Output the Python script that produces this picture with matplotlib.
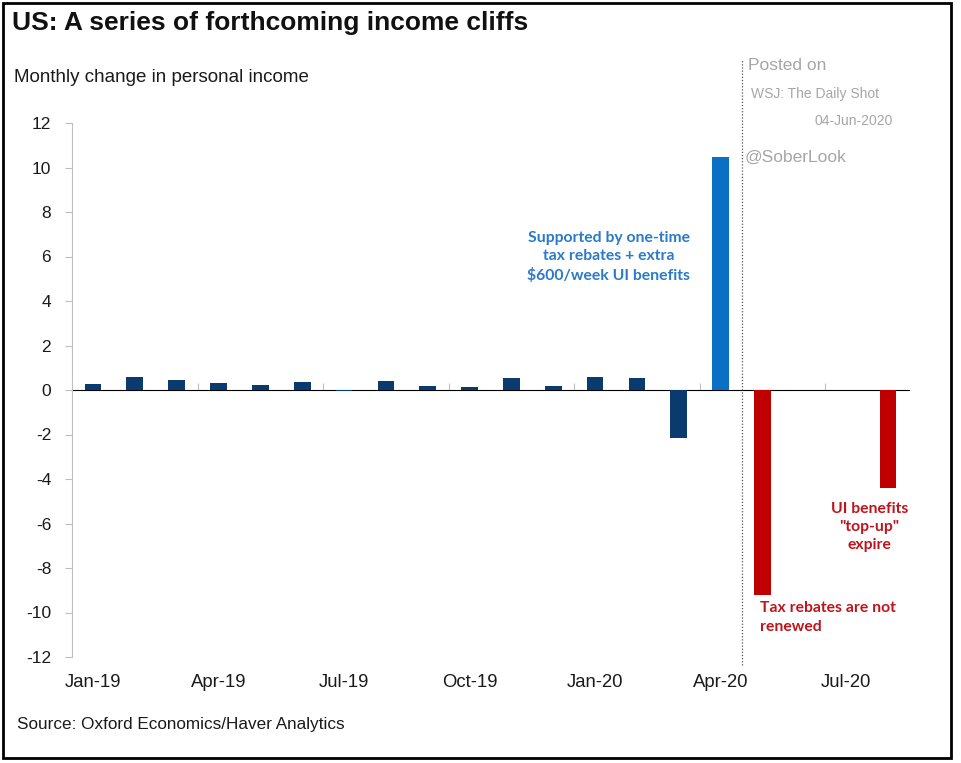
import numpy as np
import matplotlib.pyplot as plt
from matplotlib.patches import Rectangle

months = ['Jan-19', 'Feb-19', 'Mar-19', 'Apr-19', 'May-19', 'Jun-19', 'Jul-19',
          'Aug-19', 'Sep-19', 'Oct-19', 'Nov-19', 'Dec-19', 'Jan-20', 'Feb-20',
          'Mar-20', 'Apr-20', 'May-20', 'Jun-20', 'Jul-20', 'Aug-20']
actual = [0.27, 0.57, 0.44, 0.3, 0.21, 0.36, -0.05, 0.4, 0.2, 0.15, 0.53, 0.2,
          0.6, 0.53, -2.17, np.nan, np.nan, np.nan, np.nan, np.nan]
april_spike = [np.nan] * 15 + [10.47, np.nan, np.nan, np.nan, np.nan]
cliffs = [np.nan] * 16 + [-9.2, np.nan, np.nan, -4.4]
tick_months = ['Jan-19', 'Apr-19', 'Jul-19', 'Oct-19', 'Jan-20', 'Apr-20', 'Jul-20']

navy = '#0B3A6E'
blue = '#0A70C4'
red = '#C00000'
axcol = '#BFBFBF'

plt.rcParams['font.family'] = ['Liberation Sans', 'DejaVu Sans']
plt.rcParams['axes.unicode_minus'] = False

fig = plt.figure(figsize=(9.61, 7.63), dpi=100)
ax = fig.add_axes([72 / 961, 1 - 657 / 763, (909 - 72) / 961, (657 - 123) / 763])

x = np.arange(len(months))
w = 0.4
ax.bar(x, actual, width=w, color=navy)
ax.bar(x, april_spike, width=w, color=blue)
ax.bar(x, cliffs, width=w, color=red)

ax.set_xlim(-0.5, len(months) - 0.5)
ax.set_ylim(-12, 12)
ax.set_yticks(np.arange(-12, 13, 2))
ax.tick_params(axis='y', length=5, color=axcol, labelsize=12.5, pad=10,
               labelcolor='#1a1a1a')
ax.set_xticks([months.index(m) for m in tick_months])
ax.set_xticklabels(tick_months)
ax.tick_params(axis='x', length=0, labelsize=13.3, pad=12, labelcolor='#1a1a1a')
for s in ['top', 'right', 'bottom']:
    ax.spines[s].set_visible(False)
ax.spines['left'].set_color(axcol)

# zero line with category ticks
zax = ax.secondary_xaxis(0.5)
zax.set_xticks(np.arange(-0.5, len(months), 3))
zax.set_xticklabels([])
zax.tick_params(length=5, color=axcol)
zax.spines['bottom'].set_color(axcol)

# forecast divider
ax.axvline(15.5, ymin=-0.015, ymax=1.118, color='#555555', lw=0.9,
           ls=(0, (1, 1.5)), clip_on=False)

cal = ['Lato', 'DejaVu Sans']
ax.text(12.32, 5.98, 'Supported by one-time\ntax rebates + extra\n$600/week UI benefits',
        color='#2A7AC7', fontsize=11.3, fontweight='bold', family=cal,
        ha='center', va='center', linespacing=1.4)
ax.text(18.55, -6.16, 'UI benefits\n"top-up"\nexpire', color='#C0141C',
        fontsize=11.3, fontweight='bold', family=cal, ha='center', va='center',
        linespacing=1.4)
ax.text(15.94, -9.5, 'Tax rebates are not\nrenewed', color='#C0141C',
        fontsize=11.3, fontweight='bold', family=cal, ha='left', va='top',
        linespacing=1.4)

fig.text(12 / 961, 1 - 23 / 763, 'US: A series of forthcoming income cliffs',
         fontsize=19, fontweight='bold', va='center', color='#111111')
fig.text(14 / 961, 1 - 77 / 763, 'Monthly change in personal income',
         fontsize=13.5, va='center', color='#1a1a1a')
fig.text(17 / 961, 1 - 725 / 763, 'Source: Oxford Economics/Haver Analytics',
         fontsize=12.3, va='center', color='#1a1a1a')

grey = '#A6A6A6'
fig.text(748 / 961, 1 - 66 / 763, 'Posted on', fontsize=12.5, color=grey, va='center')
fig.text(751 / 961, 1 - 94 / 763, 'WSJ: The Daily Shot', fontsize=10, color=grey, va='center')
fig.text(893 / 961, 1 - 121 / 763, '04-Jun-2020', fontsize=10, color=grey,
         va='center', ha='right')
fig.text(745 / 961, 1 - 157 / 763, '@SoberLook', fontsize=12.5, color=grey, va='center')

fig.patches.append(Rectangle((3 / 961, 5 / 763), 948 / 961, 755 / 763,
                             transform=fig.transFigure, fill=False,
                             edgecolor='black', lw=2))

fig.savefig('out.png', dpi=100, facecolor='white')
